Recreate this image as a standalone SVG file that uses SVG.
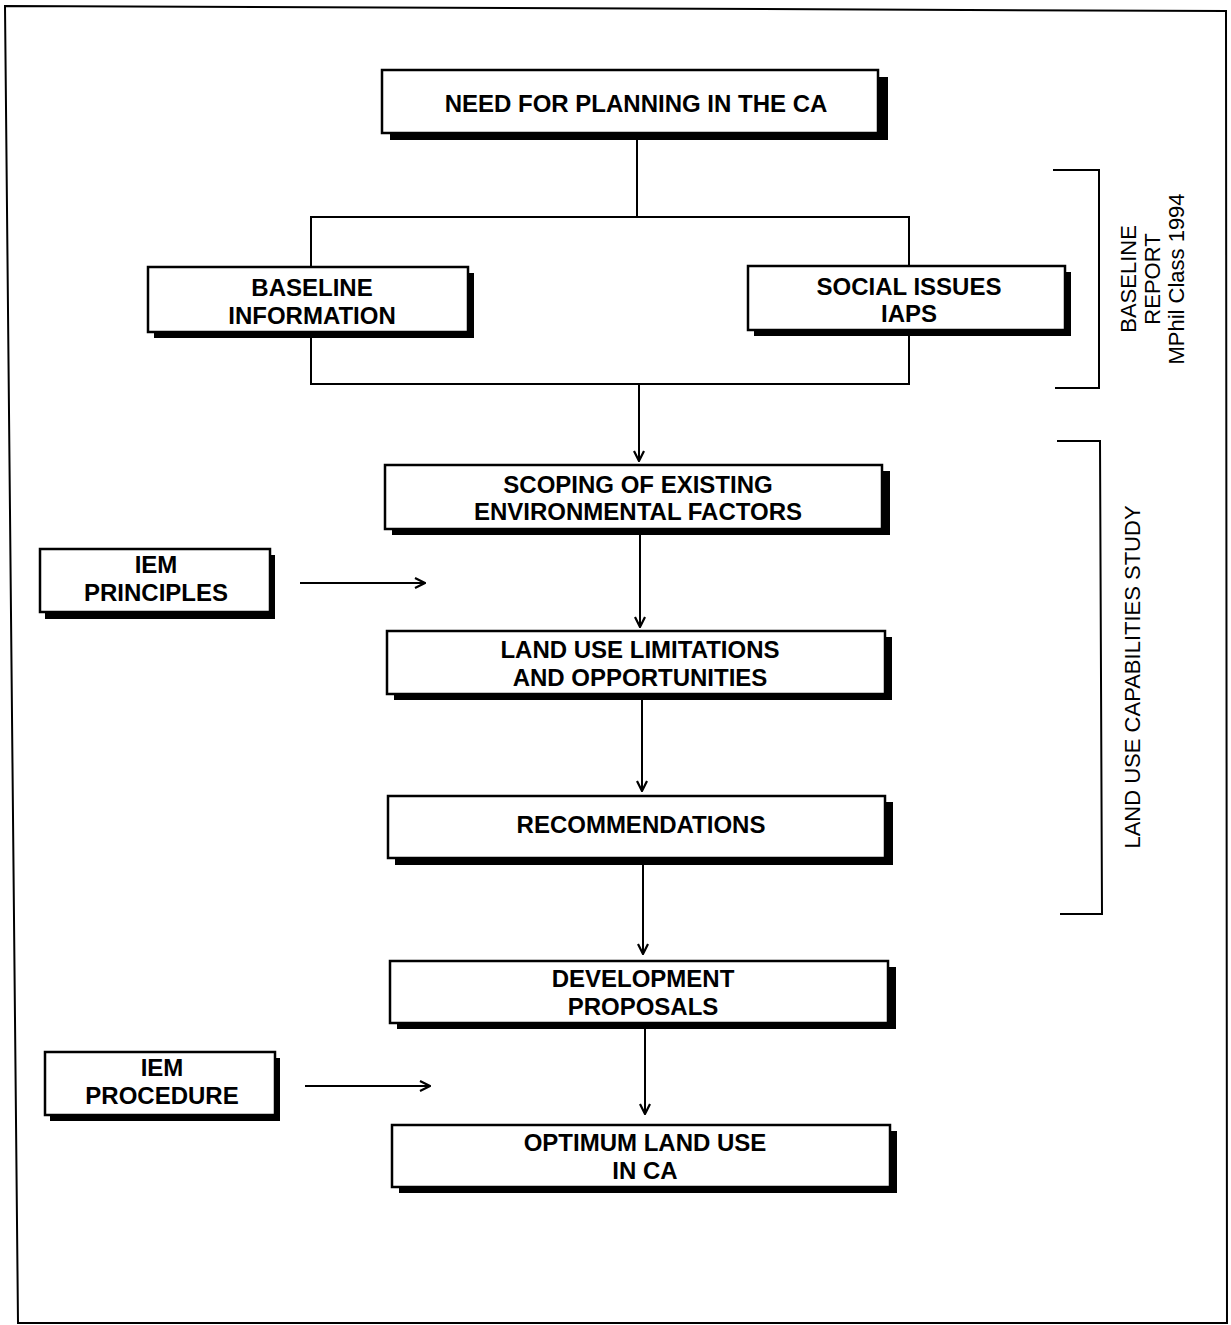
<svg xmlns="http://www.w3.org/2000/svg" width="1231" height="1325" viewBox="0 0 1231 1325">
<style>
.sh{fill:#000}
.bx{fill:#fff;stroke:#000;stroke-width:2.5}
.t{font-family:"Liberation Sans",Arial,sans-serif;font-weight:bold;font-size:24px;text-anchor:middle;fill:#000}
.r{font-family:"Liberation Sans",Arial,sans-serif;font-size:22px;text-anchor:middle;fill:#000}
.ln{fill:none;stroke:#000;stroke-width:2}
.ar{fill:none;stroke:#000;stroke-width:2;marker-end:url(#ah)}
</style>
<defs>
<marker id="ah" viewBox="0 0 12 12" refX="11" refY="6" markerWidth="12" markerHeight="12" markerUnits="userSpaceOnUse" orient="auto">
<path d="M1,1 L11,6 L1,11" fill="none" stroke="#000" stroke-width="2.2"/>
</marker>
</defs>
<rect width="1231" height="1325" fill="#fff"/>
<path d="M5,6 L1226,11 L1227,1323 L18,1323 Z" fill="none" stroke="#000" stroke-width="2"/>

<g id="connectors">
<path class="ln" d="M637,133 L637,217"/>
<path class="ln" d="M311,217 L909,217 L909,384 L311,384 Z"/>
<path class="ar" d="M639,384 L639,461"/>
<path class="ar" d="M640,535 L640,627"/>
<path class="ar" d="M642,700 L642,791"/>
<path class="ar" d="M643,865 L643,954"/>
<path class="ar" d="M645,1029 L645,1114"/>
<path class="ar" d="M300,583 L425,583"/>
<path class="ar" d="M305,1086 L430,1086"/>
</g>

<g id="need">
<rect class="sh" x="390" y="77" width="498" height="63"/>
<rect class="bx" x="382" y="70" width="496" height="63"/>
<text class="t" x="636" y="112">NEED FOR PLANNING IN THE CA</text>
</g>

<g id="baseline">
<rect class="sh" x="154" y="273" width="320" height="65"/>
<rect class="bx" x="148" y="267" width="320" height="65"/>
<text class="t" x="312" y="296">BASELINE</text>
<text class="t" x="312" y="324">INFORMATION</text>
</g>

<g id="social">
<rect class="sh" x="754" y="272" width="317" height="64"/>
<rect class="bx" x="748" y="266" width="317" height="64"/>
<text class="t" x="909" y="295">SOCIAL ISSUES</text>
<text class="t" x="909" y="322">IAPS</text>
</g>

<g id="scoping">
<rect class="sh" x="392" y="471" width="498" height="64"/>
<rect class="bx" x="385" y="465" width="497" height="64"/>
<text class="t" x="638" y="493">SCOPING OF EXISTING</text>
<text class="t" x="638" y="520">ENVIRONMENTAL FACTORS</text>
</g>

<g id="limitations">
<rect class="sh" x="394" y="637" width="498" height="63"/>
<rect class="bx" x="387" y="631" width="498" height="63"/>
<text class="t" x="640" y="658">LAND USE LIMITATIONS</text>
<text class="t" x="640" y="686">AND OPPORTUNITIES</text>
</g>

<g id="recommendations">
<rect class="sh" x="395" y="802" width="498" height="63"/>
<rect class="bx" x="388" y="796" width="497" height="62"/>
<text class="t" x="641" y="833">RECOMMENDATIONS</text>
</g>

<g id="development">
<rect class="sh" x="397" y="967" width="499" height="62"/>
<rect class="bx" x="390" y="961" width="498" height="62"/>
<text class="t" x="643" y="987">DEVELOPMENT</text>
<text class="t" x="643" y="1015">PROPOSALS</text>
</g>

<g id="optimum">
<rect class="sh" x="399" y="1131" width="498" height="62"/>
<rect class="bx" x="392" y="1125" width="498" height="62"/>
<text class="t" x="645" y="1151">OPTIMUM LAND USE</text>
<text class="t" x="645" y="1179">IN CA</text>
</g>

<g id="iem-principles">
<rect class="sh" x="45" y="555" width="230" height="64"/>
<rect class="bx" x="40" y="549" width="230" height="63"/>
<text class="t" x="156" y="573">IEM</text>
<text class="t" x="156" y="601">PRINCIPLES</text>
</g>

<g id="iem-procedure">
<rect class="sh" x="50" y="1058" width="230" height="63"/>
<rect class="bx" x="45" y="1052" width="230" height="63"/>
<text class="t" x="162" y="1076">IEM</text>
<text class="t" x="162" y="1104">PROCEDURE</text>
</g>

<g id="baseline-report">
<path class="ln" d="M1053,170 L1099,170 L1099,388 L1055,388"/>
<text class="r" transform="translate(1136,279) rotate(-90)">BASELINE</text>
<text class="r" transform="translate(1160,279) rotate(-90)">REPORT</text>
<text class="r" transform="translate(1184,279) rotate(-90)">MPhil Class 1994</text>
</g>

<g id="land-use-study">
<path class="ln" d="M1057,441 L1100,441 L1102,914 L1060,914"/>
<text class="r" transform="translate(1140,677) rotate(-90)">LAND USE CAPABILITIES STUDY</text>
</g>
</svg>
